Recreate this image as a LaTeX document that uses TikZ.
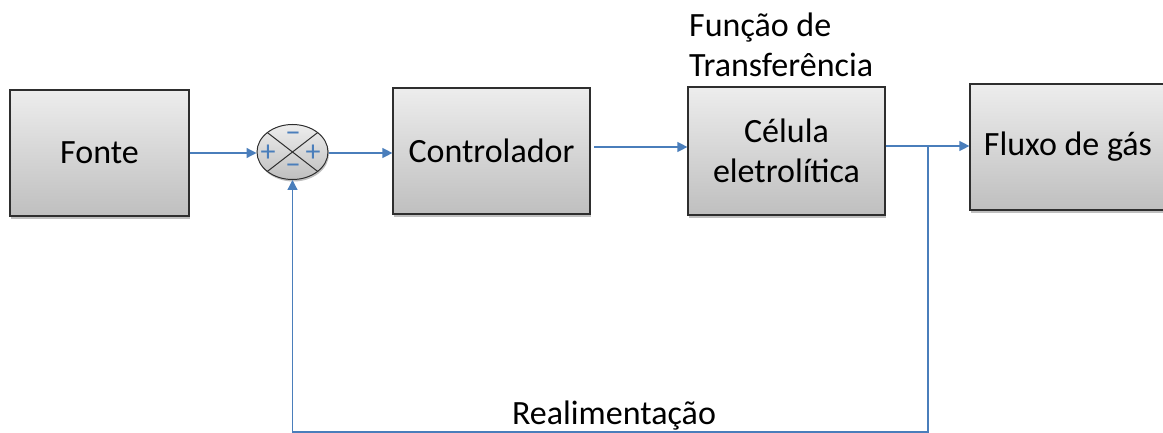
\documentclass[tikz,border=0pt]{standalone}
\usepackage{fontspec}
\setmainfont{Carlito}
\usetikzlibrary{arrows.meta,shapes.geometric,shadows,calc}
\definecolor{linkblue}{HTML}{4A7EBB}
\definecolor{edgegray}{HTML}{2E2E2E}
\definecolor{boxtop}{HTML}{EDEDED}
\definecolor{boxbot}{HTML}{BFBFBF}

\begin{document}
\begin{tikzpicture}[x=1pt,y=-1pt,
  blk/.style={rectangle, draw=edgegray, line width=1.2pt,
    top color=boxtop, bottom color=boxbot,
    drop shadow={shadow xshift=1pt, shadow yshift=-3pt, opacity=0.25, fill=black},
    inner sep=0pt, font=\fontsize{34}{40}\selectfont, align=center},
  lbl/.style={inner sep=0pt, font=\fontsize{34}{40}\selectfont},
  sgn/.style={inner sep=0pt, text=linkblue, font=\fontsize{30}{30}\selectfont},
  lnk/.style={draw=linkblue, line width=1.3pt},
  arr/.style={lnk, -{Triangle[length=10pt,width=10pt]}}]
\useasboundingbox (0,0) rectangle (1163,433);

% blocks
\node[blk, minimum width=179pt, minimum height=126pt] (fonte) at (99.5,153) {Fonte};
\node[blk, minimum width=197pt, minimum height=126pt] (ctrl) at (491.5,151) {Controlador};
\node[blk, minimum width=197pt, minimum height=128pt] (cel) at (786.5,151) {Célula\\eletrolítica};
\node[blk, minimum width=196pt, minimum height=126pt] (fluxo) at (1068,147) {\raisebox{-2pt}{Fluxo de gás}};

% summing junction
\node[ellipse, draw=edgegray, line width=1pt, minimum width=71pt, minimum height=55pt,
  inner sep=0pt, top color=boxtop, bottom color=boxbot,
  drop shadow={shadow xshift=1pt, shadow yshift=-2pt, opacity=0.25, fill=black}] (sum) at (292.5,152) {};
\draw[edgegray, line width=1pt] ($(sum.center)+(-25.1,-19.4)$) -- ($(sum.center)+(25.1,19.4)$);
\draw[edgegray, line width=1pt] ($(sum.center)+(-25.1,19.4)$) -- ($(sum.center)+(25.1,-19.4)$);
\node[sgn] (sgnl) at (268,153) {+};
\node[sgn] (sgnr) at (313,153) {+};
\node[sgn] (sgnt) at (293,137) {−};
\node[sgn] (sgnb) at (293,169) {−};

% title over the plant block
\node[lbl, align=left, anchor=north west] (tf) at (689,13) {Função de\\Transferência};

% forward path
\draw[arr] (fonte.east |- 0,153) -- (sum.west |- 0,153);
\draw[arr] (sum.east |- 0,153) -- (ctrl.west |- 0,153);
\coordinate (cout) at (594,147);
\draw[arr] (cout) -- (cel.west |- cout);
\coordinate (tap) at (928,146);
\draw[arr] (cel.east |- tap) -- (fluxo.west |- tap);

% feedback path
\coordinate (low) at (928,432);
\draw[arr] (tap) -- (low) -| (sum.south);
\node[lbl, anchor=base] (fb) at (614,424) {Realimentação};
\end{tikzpicture}
\end{document}
